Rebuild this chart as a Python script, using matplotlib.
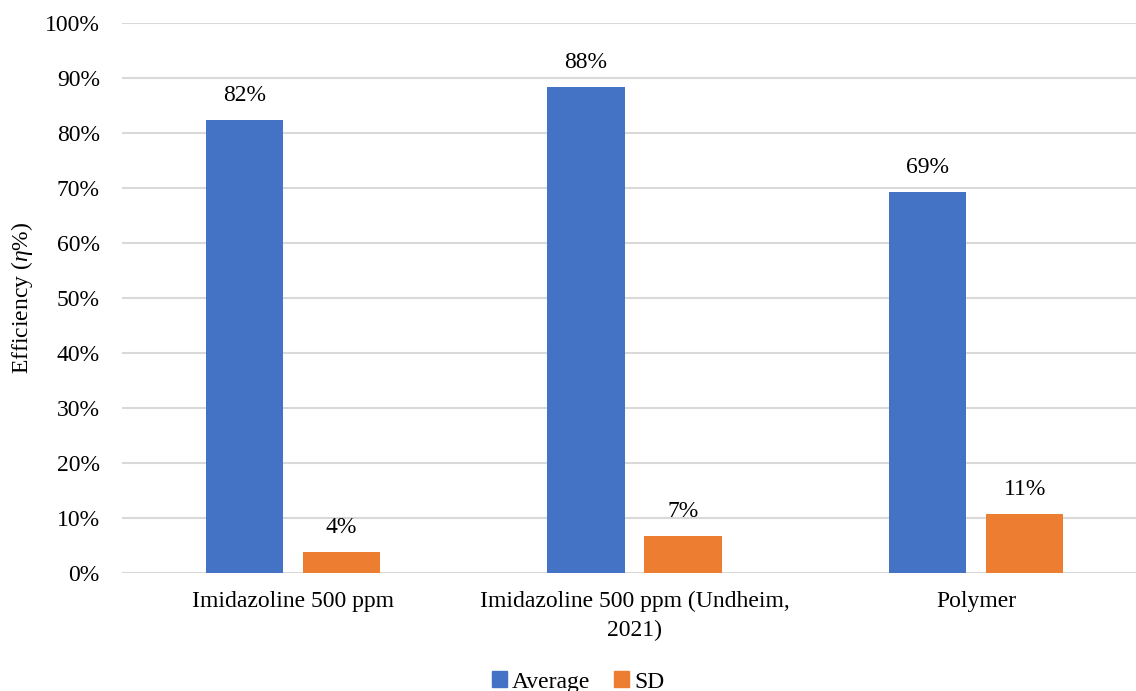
import numpy as np
import matplotlib.pyplot as plt
from matplotlib.patches import Patch

# data
categories = ["Imidazoline 500 ppm", "Imidazoline 500 ppm (Undheim,\n2021)", "Polymer"]
average = [0.824, 0.884, 0.693]
sd = [0.039, 0.067, 0.107]

plt.rcParams['font.family'] = ['Liberation Serif', 'DejaVu Serif']
plt.rcParams['font.size'] = 17
plt.rcParams['mathtext.fontset'] = 'custom'
plt.rcParams['mathtext.rm'] = 'Liberation Serif'
plt.rcParams['mathtext.it'] = 'Liberation Serif:italic'

fig = plt.figure(figsize=(11.36, 6.91), dpi=100)
# plot area runs past the right edge (the original is cropped there)
ax = fig.add_axes([122 / 1136, 1 - 573 / 691, 1025 / 1136, 550 / 691])

x = np.arange(len(categories))
w = 0.2255
off = 0.142
b1 = ax.bar(x - off, average, w, color='#4472C4', zorder=3)
b2 = ax.bar(x + off, sd, w, color='#ED7D31', zorder=3)

for bars, vals in [(b1, average), (b2, sd)]:
    for r, v in zip(bars, vals):
        ax.annotate(f"{v * 100:.0f}%", (r.get_x() + r.get_width() / 2, v),
                    xytext=(0, 10), textcoords='offset points',
                    ha='center', va='bottom')

ax.set_xlim(-0.5, 2.5)
ax.set_ylim(0, 1)
ax.set_yticks(np.arange(0, 1.01, 0.1))
ax.set_yticklabels([f"{int(round(t * 100))}%" for t in np.arange(0, 1.01, 0.1)])
ax.set_xticks(x)
ax.set_xticklabels(categories, linespacing=1.5)
ax.tick_params(length=0)
ax.tick_params(axis='y', pad=16)
ax.tick_params(axis='x', pad=13)
ax.grid(axis='y', color='#D9D9D9', linewidth=1.5, zorder=0)
for s in ax.spines.values():
    s.set_visible(False)

fig.text(22 / 1136, 1 - 298 / 691, r"Efficiency ($\eta$%)", rotation=90,
         ha='center', va='center')

handles = [Patch(color='#4472C4'), Patch(color='#ED7D31')]
fig.legend(handles, ['Average', 'SD'], loc='center', ncol=2,
           bbox_to_anchor=(578 / 1136, 1 - 682 / 691), frameon=False,
           handlelength=0.65, handleheight=0.65, handletextpad=0.2,
           columnspacing=1.0)

fig.savefig('out.png', dpi=100)
